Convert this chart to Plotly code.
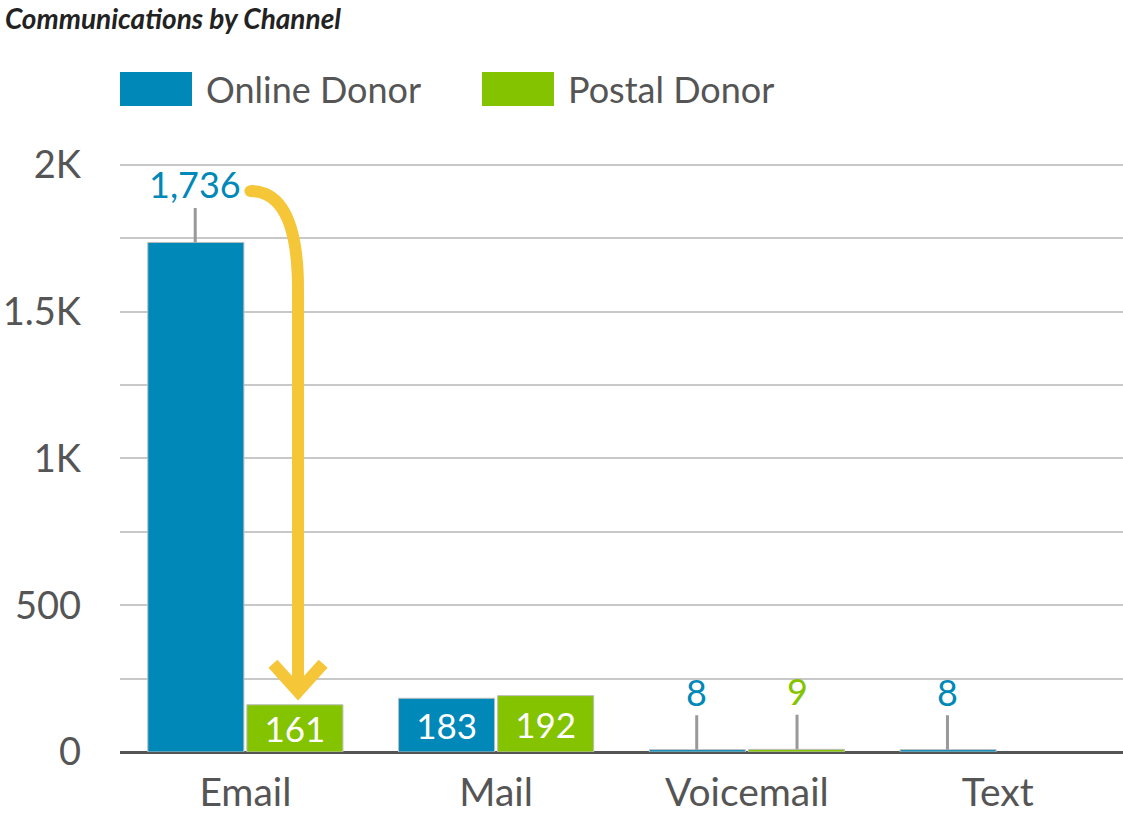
import plotly.graph_objects as go

# ---- data ----
categories = ["Email", "Mail", "Voicemail", "Text"]
online_donor = [1736, 183, 8, 8]
postal_donor = [161, 192, 9, None]
series_names = ["Online Donor", "Postal Donor"]
y_tickvals = [0, 500, 1000, 1500, 2000]
y_ticktext = ["0", "500", "1K", "1.5K", "2K"]
title_text = "Communications by Channel"

BLUE = "#0088b8"
GREEN = "#84c300"
YELLOW = "#f5c638"
FONT = "Lato"
W, H = 1123, 817
ML, MR, MT, MB = 120, 0, 162, 65
Y_MAX = 2010


def px_to_paper_x(px):
    return (px - ML) / (W - ML - MR)


def px_to_paper_y(py):
    return (H - MB - py) / (H - MT - MB)


def inside_label(v):
    return v is not None and 100 <= v < 1000


fig = go.Figure()
for name, vals, color in [(series_names[0], online_donor, BLUE),
                          (series_names[1], postal_donor, GREEN)]:
    fig.add_trace(go.Bar(
        name=name, x=categories, y=vals,
        marker=dict(color=color, line=dict(color="#bdbdbd", width=1)),
        text=[f"{v:,}" if inside_label(v) else "" for v in vals],
        textposition="inside", insidetextanchor="middle",
        constraintext="none",
        textfont=dict(family=FONT, size=35, color="white"),
        showlegend=False, hoverinfo="skip",
    ))

annotations = []
# outside labels with leader lines
offsets = {0: -0.2, 1: 0.2}
for si, (vals, color) in enumerate([(online_donor, BLUE), (postal_donor, GREEN)]):
    for ci, v in enumerate(vals):
        if v is None or inside_label(v):
            continue
        annotations.append(dict(
            x=ci + offsets[si], y=v, xref="x", yref="y",
            text=f"{v:,}", showarrow=True, arrowhead=0, arrowwidth=3,
            arrowcolor="#999999", ax=0, ay=-58, standoff=0,
            font=dict(family=FONT, size=36, color=color),
        ))

# legend (custom)
legend_items = [(series_names[0], BLUE, 120, 204), (series_names[1], GREEN, 482, 566)]
shapes = []
for name, color, bx, tx in legend_items:
    shapes.append(dict(type="rect", xref="paper", yref="paper",
                       x0=px_to_paper_x(bx), x1=px_to_paper_x(bx + 72),
                       y0=px_to_paper_y(106), y1=px_to_paper_y(72),
                       fillcolor=color, line=dict(width=0)))
    annotations.append(dict(x=px_to_paper_x(tx), y=px_to_paper_y(89),
                            xref="paper", yref="paper", xanchor="left",
                            yanchor="middle", showarrow=False, text=name,
                            font=dict(family=FONT, size=36, color="#555555")))

# yellow callout arrow from the email online label down to the email postal bar
ax_x = 0.21
start_x = 0.02
start_y = online_donor[0] + 175
bend_y = online_donor[0] - 160
tip_y = postal_donor[0] + 50
arm_y = tip_y + 90
path = (f"M {start_x},{start_y} Q {ax_x},{start_y} {ax_x},{bend_y} "
        f"L {ax_x},{tip_y}")
shapes.append(dict(type="path", xref="x", yref="y", path=path,
                   line=dict(color=YELLOW, width=12)))
shapes.append(dict(type="path", xref="x", yref="y",
                   path=f"M {ax_x - 0.1},{arm_y} L {ax_x},{tip_y - 5} L {ax_x + 0.1},{arm_y}",
                   line=dict(color=YELLOW, width=12)))
# round cap at start
shapes.append(dict(type="circle", xref="x", yref="y",
                   x0=start_x - 0.024, x1=start_x + 0.024,
                   y0=start_y - 20, y1=start_y + 20,
                   fillcolor=YELLOW, line=dict(width=0)))

fig.update_layout(
    width=W, height=H,
    margin=dict(l=ML, r=MR, t=MT, b=MB),
    paper_bgcolor="white", plot_bgcolor="white",
    barmode="group", bargap=0.21, bargroupgap=0.03,
    title=dict(text=f"<b><i>{title_text}</i></b>", x=5 / W, xanchor="left",
               xref="container", y=1 - 19 / H, yanchor="middle", yref="container",
               font=dict(family=FONT, size=28, color="#222222")),
    font=dict(family=FONT, color="#555555"),
    annotations=annotations, shapes=shapes,
    xaxis=dict(type="category", showgrid=False, showline=False, ticks="",
               automargin=False,
               tickfont=dict(family=FONT, size=39, color="#555555"),
               ticklabelstandoff=14),
    yaxis=dict(range=[0, Y_MAX], tickvals=y_tickvals, ticktext=y_ticktext,
               automargin=False,
               showgrid=True, gridcolor="#c8c8c8", gridwidth=2,
               minor=dict(dtick=250, showgrid=True, gridcolor="#c8c8c8", gridwidth=2),
               zeroline=True, zerolinecolor="#555555", zerolinewidth=3,
               showline=False, ticks="",
               tickfont=dict(family=FONT, size=38, color="#555555"),
               ticklabelstandoff=38),
)

fig.write_html("out.html", config={"displayModeBar": False},
               post_script="document.body.style.margin='0';document.body.style.overflow='hidden';")
